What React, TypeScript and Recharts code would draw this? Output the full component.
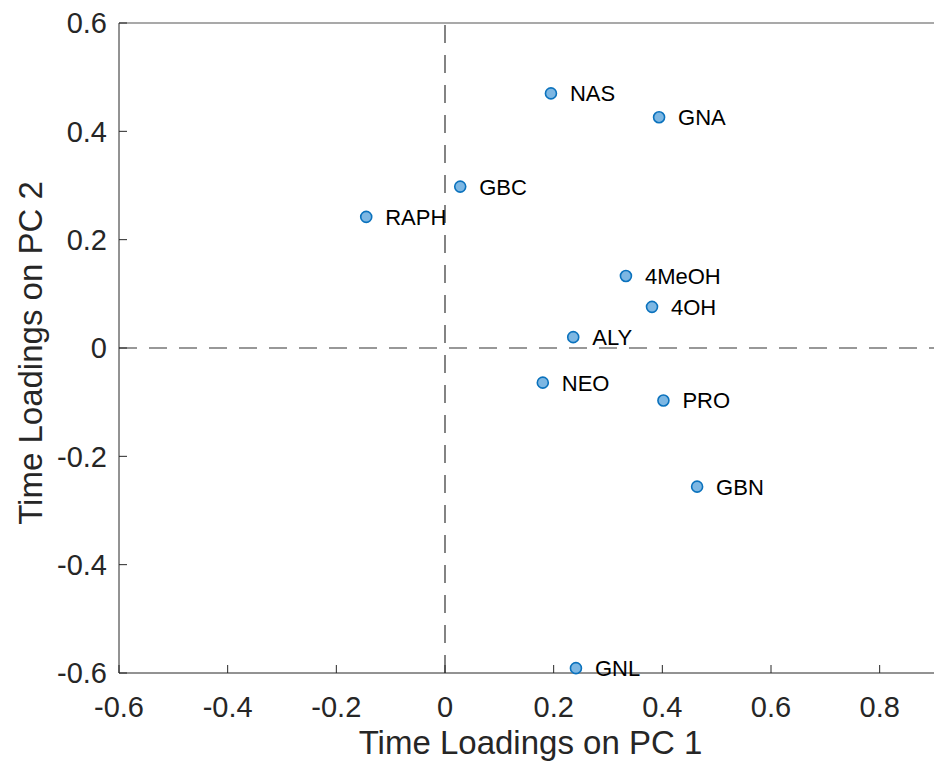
import {
  Label,
  ReferenceLine,
  Scatter,
  ScatterChart,
  XAxis,
  YAxis,
} from "recharts";

const names = ["NAS", "GNA", "GBC", "RAPH", "4MeOH", "4OH", "ALY", "NEO", "PRO", "GBN", "GNL"];
const pc1 = [0.195, 0.394, 0.028, -0.145, 0.333, 0.381, 0.236, 0.18, 0.402, 0.464, 0.241];
const pc2 = [0.47, 0.426, 0.298, 0.242, 0.133, 0.076, 0.02, -0.064, -0.097, -0.256, -0.591];

const xTicks = [-0.6, -0.4, -0.2, 0, 0.2, 0.4, 0.6, 0.8];
const yTicks = [-0.6, -0.4, -0.2, 0, 0.2, 0.4, 0.6];

const data = names.map((name, i) => ({ name, x: pc1[i], y: pc2[i] }));

const fmt = (v: number) => (v === 0 ? "0" : v.toFixed(1));
const font = "'Liberation Sans', Arial, Helvetica, sans-serif";

// circle plus its name, drawn from the scaled point
function Dot(props: any) {
  const { cx, cy, payload } = props;
  return (
    <g>
      <circle cx={cx} cy={cy} r={5.5} fill="#7db7e3" stroke="#0b72bd" strokeWidth={1.6} />
      <text
        x={cx + 19}
        y={cy}
        dy="0.36em"
        fontSize={22}
        fontFamily={font}
        fill="#000"
      >
        {payload.name}
      </text>
    </g>
  );
}

export default function App() {
  return (
    <div style={{ position: "absolute", left: 0, top: 0 }}>
      <ScatterChart
        width={934}
        height={761}
        margin={{ top: 23, right: 0, bottom: 0, left: 0 }}
      >
        <XAxis
          type="number"
          dataKey="x"
          domain={[-0.6, 0.9]}
          ticks={xTicks}
          tickFormatter={fmt}
          height={88}
          stroke="#262626"
          tickSize={-8}
          tickMargin={31}
          tick={{ fill: "#262626", fontSize: 29, fontFamily: font }}
        >
          <Label
            value="Time Loadings on PC 1"
            position="center"
            dx={4}
            dy={25}
            fill="#262626"
            fontSize={33}
            fontFamily={font}
          />
        </XAxis>
        <YAxis
          type="number"
          dataKey="y"
          domain={[-0.6, 0.6]}
          ticks={yTicks}
          tickFormatter={fmt}
          width={119}
          stroke="#262626"
          tickSize={-8}
          tickMargin={20}
          tick={{ fill: "#262626", fontSize: 29, fontFamily: font }}
        >
          <Label
            value="Time Loadings on PC 2"
            position="center"
            angle={-90}
            dx={-29}
            dy={5}
            fill="#262626"
            fontSize={33}
            fontFamily={font}
          />
        </YAxis>
        <ReferenceLine y={0.6} stroke="#8c8c8c" strokeWidth={1.5} />
        <ReferenceLine x={0} stroke="#333" strokeWidth={1.2} strokeDasharray="18 12" />
        <ReferenceLine y={0} stroke="#333" strokeWidth={1.2} strokeDasharray="18 12" />
        <Scatter data={data} shape={Dot} isAnimationActive={false} />
      </ScatterChart>
    </div>
  );
}
